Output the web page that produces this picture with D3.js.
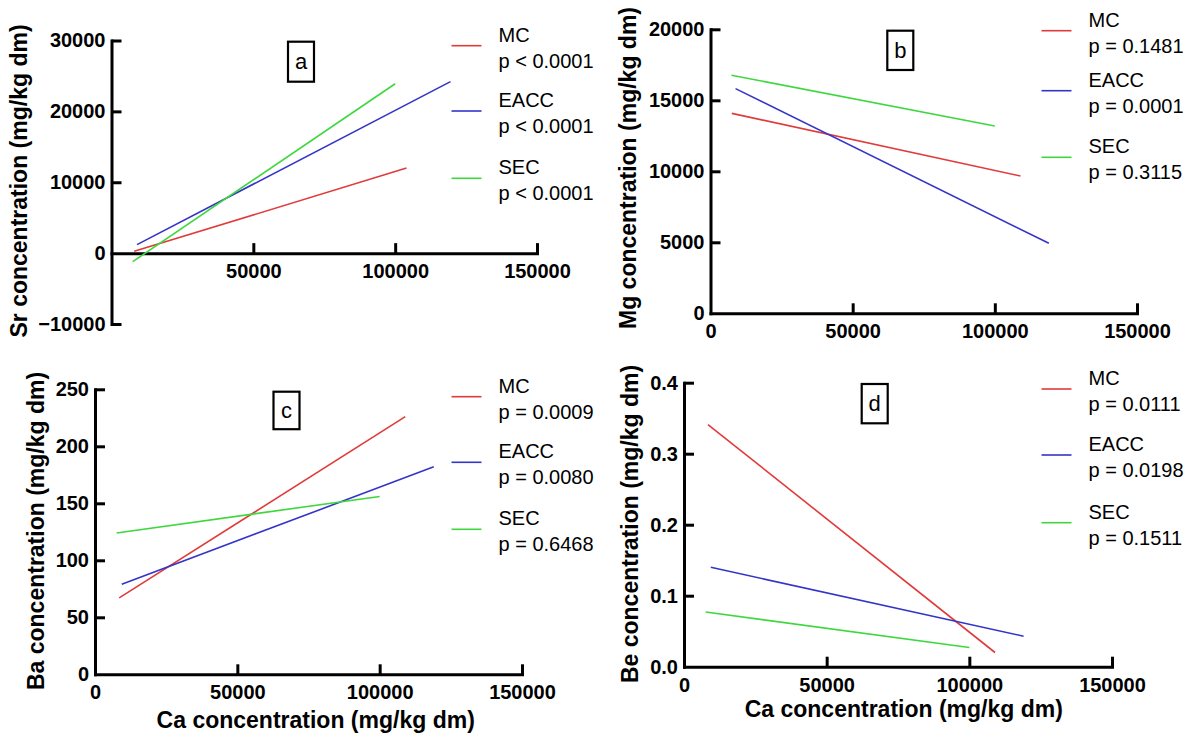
<!DOCTYPE html>
<html>
<head>
<meta charset="utf-8">
<script src="https://cdn.jsdelivr.net/npm/d3@7"></script>
<style>
  html, body { margin: 0; padding: 0; background: #fff; }
  svg { display: block; font-family: "Liberation Sans", Arial, sans-serif; }
</style>
</head>
<body>
<svg id="chart" width="1191" height="735"></svg>
<script>
// ---------------- DATA ----------------
const groupNames = ["MC", "EACC", "SEC"];
const xTickValues = [0, 50000, 100000, 150000];
const xTitle = "Ca concentration (mg/kg dm)";

// Panel a: Sr vs Ca
const aLetter = "a";
const aYTitle = "Sr concentration (mg/kg dm)";
const aYTicks = [-10000, 0, 10000, 20000, 30000];
const aStartX = [8000, 9000, 7500];
const aEndX = [104000, 119500, 100000];
const aStartY = [250, 1200, -1200];
const aEndY = [12000, 24200, 23900];
const aP = ["p < 0.0001", "p < 0.0001", "p < 0.0001"];

// Panel b: Mg vs Ca
const bLetter = "b";
const bYTitle = "Mg concentration (mg/kg dm)";
const bYTicks = [0, 5000, 10000, 15000, 20000];
const bStartX = [7500, 8800, 7400];
const bEndX = [109000, 119000, 100000];
const bStartY = [14080, 15820, 16760];
const bEndY = [9670, 4930, 13190];
const bP = ["p = 0.1481", "p = 0.0001", "p = 0.3115"];

// Panel c: Ba vs Ca
const cLetter = "c";
const cYTitle = "Ba concentration (mg/kg dm)";
const cYTicks = [0, 50, 100, 150, 200, 250];
const cStartX = [8500, 9400, 7600];
const cEndX = [109000, 119000, 100000];
const cStartY = [67, 79, 124];
const cEndY = [226, 182, 156];
const cP = ["p = 0.0009", "p = 0.0080", "p = 0.6468"];

// Panel d: Be vs Ca
const dLetter = "d";
const dYTitle = "Be concentration (mg/kg dm)";
const dYTicks = [0, 0.1, 0.2, 0.3, 0.4];
const dStartX = [8400, 9400, 7600];
const dEndX = [109000, 119000, 100000];
const dStartY = [0.341, 0.140, 0.077];
const dEndY = [0.020, 0.043, 0.027];
const dP = ["p = 0.0111", "p = 0.0198", "p = 0.1511"];

// ---------------- STYLE / LAYOUT ----------------
const colors = ["#e03a3a", "#3434c8", "#3ed83e"];

const panels = [
  { letter: aLetter, yTitle: aYTitle, yTicks: aYTicks, sx: aStartX, ex: aEndX, sy: aStartY, ey: aEndY, p: aP,
    xr: [111.5, 537], yd: [-10000, 30000], yr: [324, 40.5], xLabel0: false, yFmt: d3.format("d"),
    legX: 451.5, legLineY: [45.7, 111, 178.3], box: [288, 41.7, 26, 40],
    yTitlePos: [19, 181], xTitlePos: null },
  { letter: bLetter, yTitle: bYTitle, yTicks: bYTicks, sx: bStartX, ex: bEndX, sy: bStartY, ey: bEndY, p: bP,
    xr: [710.5, 1137], yd: [0, 20000], yr: [313.3, 29.3], xLabel0: true, yFmt: d3.format("d"),
    legX: 1041.5, legLineY: [30.7, 90.7, 157.3], box: [887.3, 30.7, 26, 39.3],
    yTitlePos: [628, 168], xTitlePos: null },
  { letter: cLetter, yTitle: cYTitle, yTicks: cYTicks, sx: cStartX, ex: cEndX, sy: cStartY, ey: cEndY, p: cP,
    xr: [95, 522], yd: [0, 250], yr: [674.3, 389.3], xLabel0: true, yFmt: d3.format("d"),
    legX: 451.5, legLineY: [396.7, 462.3, 529.3], box: [273.5, 391.7, 26, 37.5],
    yTitlePos: [36, 531], xTitlePos: [315.7, 728] },
  { letter: dLetter, yTitle: dYTitle, yTicks: dYTicks, sx: dStartX, ex: dEndX, sy: dStartY, ey: dEndY, p: dP,
    xr: [684, 1112], yd: [0, 0.4], yr: [666.7, 382.7], xLabel0: true, yFmt: d3.format(".1f"),
    legX: 1041.5, legLineY: [389, 455, 522.7], box: [861.7, 384, 26, 39.3],
    yTitlePos: [630, 524], xTitlePos: [903.8, 717] }
];

const svg = d3.select("#chart");

panels.forEach(P => {
  const x = d3.scaleLinear().domain([0, 150000]).range(P.xr);
  const y = d3.scaleLinear().domain(P.yd).range(P.yr);
  const g = svg.append("g");

  // x axis at y = 0
  const xAxis = d3.axisBottom(x)
    .tickValues(P.xLabel0 ? xTickValues : xTickValues.slice(1))
    .tickFormat(d3.format("d"))
    .tickSizeInner(-10).tickSizeOuter(0).tickPadding(11);
  const gx = g.append("g").attr("transform", `translate(0,${y(0)})`).call(xAxis);

  // y axis
  const yAxis = d3.axisLeft(y)
    .tickValues(P.yTicks)
    .tickFormat(P.yFmt)
    .tickSizeInner(-10).tickSizeOuter(0).tickPadding(6);
  const gy = g.append("g").attr("transform", `translate(${x(0)},0)`).call(yAxis);

  [gx, gy].forEach(ax => {
    ax.select(".domain").attr("stroke", "#000").attr("stroke-width", 3).attr("stroke-linecap", "square");
    ax.selectAll(".tick line").attr("stroke", "#000").attr("stroke-width", 3);
    ax.selectAll(".tick text")
      .attr("fill", "#000")
      .style("font-size", "20px")
      .style("font-weight", "bold")
      .style("font-family", '"Liberation Sans", Arial, sans-serif');
  });
  // x axis ticks point up; hide the tick at 0 (it coincides with the y axis)
  gx.selectAll(".tick").filter(d => d === 0).select("line").remove();
  gy.selectAll(".tick").filter(d => d === 0 || d === P.yd[1] && false).select("line").remove();

  // regression lines
  groupNames.forEach((name, i) => {
    g.append("line")
      .attr("x1", x(P.sx[i])).attr("y1", y(P.sy[i]))
      .attr("x2", x(P.ex[i])).attr("y2", y(P.ey[i]))
      .attr("stroke", colors[i]).attr("stroke-width", 1.6);
  });

  // legend
  groupNames.forEach((name, i) => {
    const ly = P.legLineY[i];
    g.append("line")
      .attr("x1", P.legX).attr("x2", P.legX + 30)
      .attr("y1", ly).attr("y2", ly)
      .attr("stroke", colors[i]).attr("stroke-width", 1.6);
    g.append("text")
      .attr("x", P.legX + 47).attr("y", ly - 4)
      .style("font-size", "20px")
      .text(name);
    g.append("text")
      .attr("x", P.legX + 47).attr("y", ly + 21.8)
      .style("font-size", "20px")
      .text(P.p[i]);
  });

  // panel letter box
  const [bx, by, bw, bh] = P.box;
  g.append("rect")
    .attr("x", bx).attr("y", by).attr("width", bw).attr("height", bh)
    .attr("fill", "none").attr("stroke", "#000").attr("stroke-width", 2.2);
  g.append("text")
    .attr("x", bx + bw / 2).attr("y", by + bh / 2)
    .attr("text-anchor", "middle").attr("dominant-baseline", "central")
    .style("font-size", "22px")
    .text(P.letter);

  // y title
  g.append("text")
    .attr("transform", `translate(${P.yTitlePos[0]},${P.yTitlePos[1]}) rotate(-90)`)
    .attr("text-anchor", "middle").attr("dominant-baseline", "central")
    .style("font-size", "23px").style("font-weight", "bold")
    .text(P.yTitle);

  // x title
  if (P.xTitlePos) {
    g.append("text")
      .attr("x", P.xTitlePos[0]).attr("y", P.xTitlePos[1])
      .attr("text-anchor", "middle")
      .style("font-size", "23px").style("font-weight", "bold")
      .text(xTitle);
  }
});
</script>
</body>
</html>
